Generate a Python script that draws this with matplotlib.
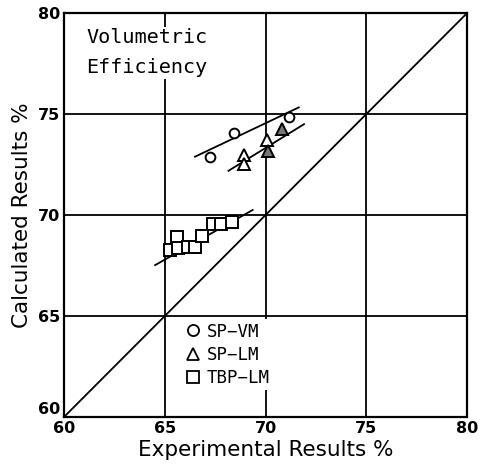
import numpy as np
import matplotlib
matplotlib.use('Agg')
import matplotlib.pyplot as plt

# SP-VM (circles)
vm_x = [67.25, 68.44, 71.15]
vm_y = [72.86, 74.04, 74.84]
vm_fit_x = [66.5, 71.65]
vm_fit_y = [72.89, 75.33]

# SP-LM (triangles), some drawn filled
lm_x = [68.92, 68.95, 70.09, 70.14, 70.84]
lm_y = [72.95, 72.52, 73.71, 73.18, 74.24]
lm_filled = [False, False, False, True, True]
lm_fit_x = [68.16, 71.91]
lm_fit_y = [72.19, 74.5]

# TBP-LM (squares)
tbp_x = [65.26, 65.62, 65.67, 66.17, 66.5, 66.83, 67.41, 67.81, 68.34]
tbp_y = [68.27, 68.90, 68.35, 68.43, 68.43, 68.96, 69.55, 69.55, 69.65]
tbp_fit_x = [64.52, 69.36]
tbp_fit_y = [67.52, 70.25]

ticks = [60, 65, 70, 75, 80]

fig = plt.figure(figsize=(4.85, 4.68), dpi=100)
ax = fig.add_axes([0.132, 0.109, 0.831, 0.863])
ax.set_xlim(60, 80)
ax.set_ylim(60, 80)
ax.set_xticks(ticks)
ax.set_yticks(ticks)
ax.tick_params(length=0, labelsize=11.5, pad=3)
for lab in ax.get_xticklabels() + ax.get_yticklabels():
    lab.set_fontweight('bold')
# lift the lowest y label off the corner
ax.get_yticklabels()[0].set_va('bottom')
for s in ax.spines.values():
    s.set_linewidth(1.6)

# grid and 1:1 line
for t in ticks[1:-1]:
    ax.axvline(t, color='k', lw=1.3, zorder=1)
    ax.axhline(t, color='k', lw=1.3, zorder=1)
ax.plot([60, 80], [60, 80], color='k', lw=1.3, zorder=2)

# fitted lines
ax.plot(vm_fit_x, vm_fit_y, color='k', lw=1.3, zorder=2)
ax.plot(lm_fit_x, lm_fit_y, color='k', lw=1.3, zorder=2)
ax.plot(tbp_fit_x, tbp_fit_y, color='k', lw=1.3, zorder=2)

ax.plot(vm_x, vm_y, 'o', ms=7, mfc='white', mec='k', mew=1.4, zorder=3)
ax.plot(tbp_x, tbp_y, 's', ms=8, mfc='white', mec='k', mew=1.4, zorder=3)
for x, y, f in zip(lm_x, lm_y, lm_filled):
    ax.plot(x, y, '^', ms=8, mfc='#777777' if f else 'white', mec='k', mew=1.4, zorder=3)

# legend
h_vm = plt.Line2D([], [], ls='none', marker='o', ms=8, mfc='white', mec='k', mew=1.3)
h_lm = plt.Line2D([], [], ls='none', marker='^', ms=9, mfc='white', mec='k', mew=1.3)
h_tbp = plt.Line2D([], [], ls='none', marker='s', ms=8, mfc='white', mec='k', mew=1.3)
leg = ax.legend([h_vm, h_lm, h_tbp], ['SP−VM', 'SP−LM', 'TBP−LM'],
                loc='upper left', bbox_to_anchor=(0.265, 0.264), frameon=True,
                fancybox=False, edgecolor='none', framealpha=1,
                prop={'family': 'DejaVu Sans Mono', 'size': 12.5},
                handletextpad=0.25, labelspacing=0.3, handlelength=1.1,
                borderpad=0.2)
leg.set_zorder(4)

ax.text(61.1, 79.25, 'Volumetric\nEfficiency', family='DejaVu Sans Mono', fontsize=14.5,
        va='top', ha='left', linespacing=1.75,
        bbox=dict(facecolor='white', edgecolor='none', pad=1), zorder=4)

ax.set_xlabel('Experimental Results %', fontsize=15.5, labelpad=3)
ax.set_ylabel('Calculated Results %', fontsize=15.5, labelpad=4)

fig.savefig('out.png', dpi=100)
